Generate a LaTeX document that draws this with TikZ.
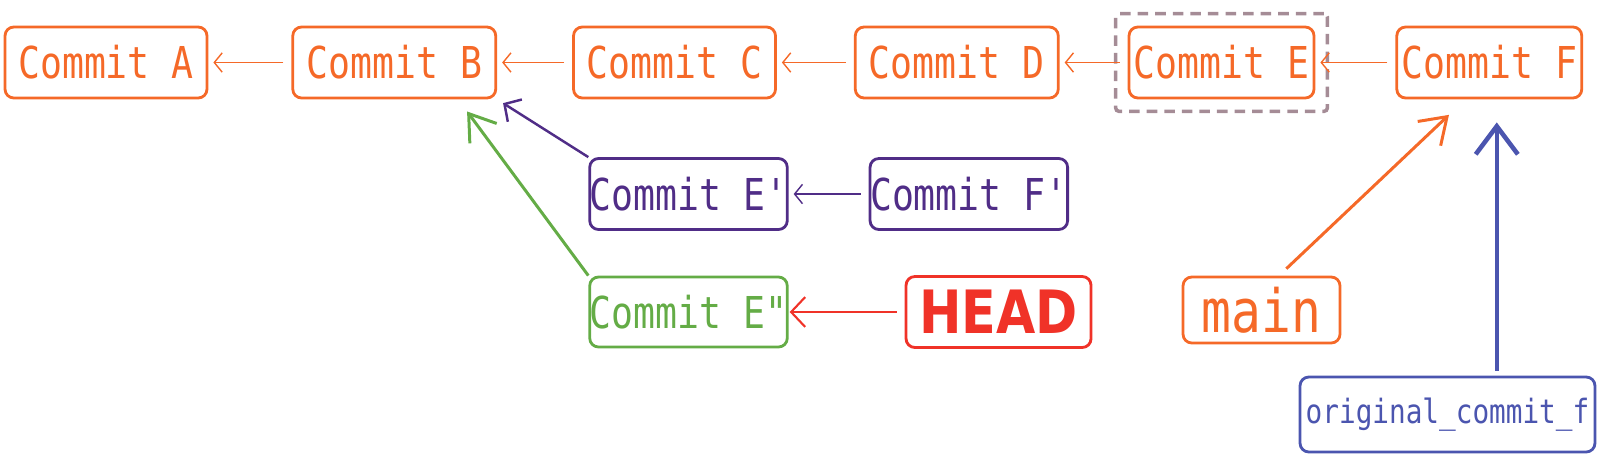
\documentclass[tikz,border=0pt]{standalone}
\usepackage{fontspec}
\setmonofont[FakeStretch=0.83]{DejaVu Sans Mono}
\newfontfamily\headfont[FakeStretch=0.85]{DejaVu Sans}
\usetikzlibrary{arrows.meta,fit,positioning}
\definecolor{gitorange}{RGB}{245,105,40}
\definecolor{gitpurple}{RGB}{80,45,135}
\definecolor{gitgreen}{RGB}{100,172,70}
\definecolor{gitred}{RGB}{240,50,40}
\definecolor{gitblue}{RGB}{75,85,175}
\definecolor{gitmauve}{RGB}{165,140,150}
\begin{document}
\begin{tikzpicture}[
	x=0.02cm, y=-0.02cm,
	box/.style={rectangle, rounded corners=5pt, draw, line width=1.6pt, inner sep=0pt, minimum height=1.42cm, font=\ttfamily\fontsize{25}{30}\selectfont},
	dashbox/.style={rectangle, rounded corners=2pt, draw=gitmauve, line width=2pt, dash pattern=on 6pt off 4pt},
	link/.style={draw, line width=0.8pt, -{Straight Barb[length=4.5pt, width=11pt]}, shorten >=0.1cm, shorten <=0.16cm}
]
\useasboundingbox (0,0) rectangle (1600,457);
% main line
\node[box, color=gitorange, minimum width=4.04cm] (A) at (106,62.5) {Commit A};
\node[box, color=gitorange, minimum width=4.06cm, right=1.66cm of A] (B) {Commit B};
\node[box, color=gitorange, minimum width=4.04cm, right=1.5cm of B] (C) {Commit C};
\node[box, color=gitorange, minimum width=4.06cm, right=1.54cm of C] (D) {Commit D};
\node[box, color=gitorange, minimum width=3.7cm, right=1.36cm of D] (E) {Commit E};
\node[box, color=gitorange, minimum width=3.7cm, right=1.6cm of E] (F) {Commit F};
\node[dashbox, fit=(E), inner sep=0.24cm] (Esel) {};
% rewritten commits
\node[box, color=gitpurple, minimum width=3.74cm] (Ep) at (688.5,194) {Commit E'};
\node[box, color=gitpurple, minimum width=3.7cm, right=1.6cm of Ep] (Fp) {Commit F'};
\node[box, color=gitgreen, minimum width=3.74cm, minimum height=1.4cm] (Epp) at (688.5,312) {Commit E"};
\node[box, color=gitred, minimum width=3.7cm, right=2.32cm of Epp, font=\headfont\bfseries\fontsize{34}{40}\selectfont] (HEAD) {HEAD};
% branches
\node[box, color=gitorange, minimum width=3.14cm, minimum height=1.32cm, font=\ttfamily\fontsize{34}{40}\selectfont] (main) at (1261.5,310) {main};
\node[box, color=gitblue, minimum width=5.9cm, minimum height=1.5cm, font=\ttfamily\fontsize{19}{23}\selectfont] (orig) at (1447.5,414.5) {original\_commit\_f};

\draw[link, gitorange] (B) -- (A);
\draw[link, gitorange] (C) -- (B);
\draw[link, gitorange] (D) -- (C);
\draw[link, gitorange] (E) -- (D);
\draw[link, gitorange] (F) -- (E);
\draw[link, gitpurple] (Fp) -- (Ep);
\draw[gitpurple, line width=1.4pt, -{Straight Barb[length=7pt, width=15pt]}, shorten >=0.14cm] (Ep.north west) -- (B.south east);
\draw[gitgreen, line width=1.7pt, -{Straight Barb[length=14pt, width=19pt]}, shorten >=0.3cm] (Epp.north west) -- (B.-30);
\draw[gitred, line width=1.2pt, -{Straight Barb[length=8pt, width=17pt]}, shorten >=0.02cm, shorten <=0.16cm] (HEAD) -- (Epp);
\draw[gitorange, line width=1.7pt, -{Straight Barb[length=14pt, width=19pt]}, shorten >=0.45cm, shorten <=0.2cm] (main.63) -- (F.237);
\draw[gitblue, line width=2.6pt, -{Straight Barb[length=16pt, width=24pt]}, shorten >=0.46cm, shorten <=0.1cm] ([xshift=0.15cm]F.south |- orig.north) -- ([xshift=0.15cm]F.south);
\end{tikzpicture}
\end{document}
